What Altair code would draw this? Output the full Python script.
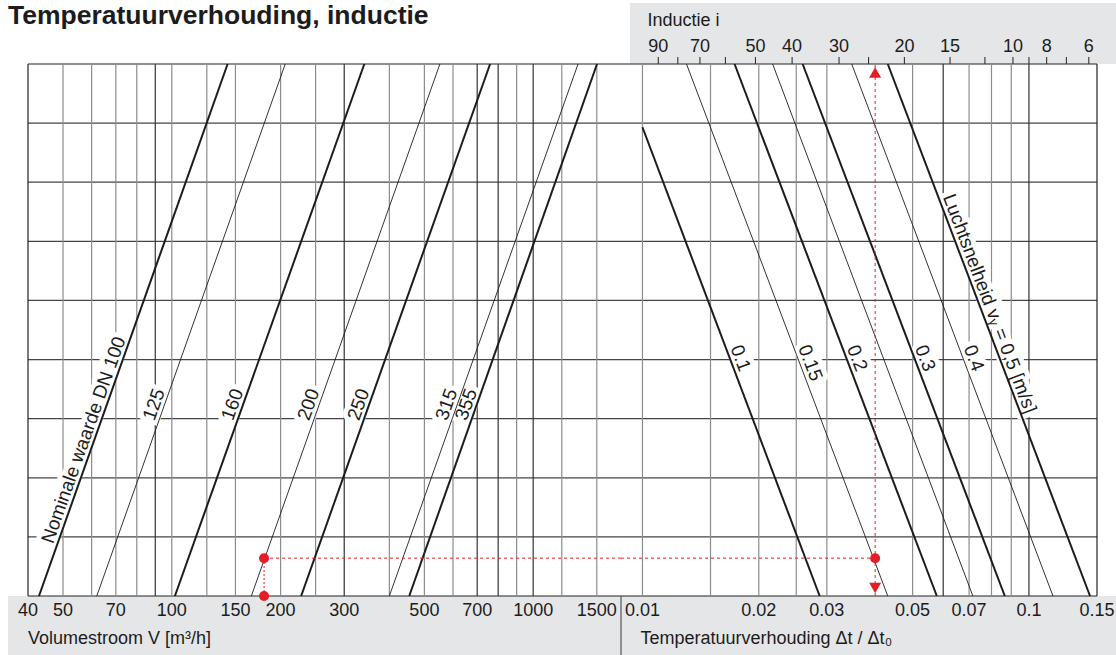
import altair as alt
import pandas as pd

FONT = "Liberation Sans"
INK = "#1c1c1c"
GRID_LIGHT = "#8c8c8c"
GRID_DARK = "#333333"
FRAME = "#222222"
HLINE = "#444444"
BAND = "#e5e6e8"
RED = "#e41e26"
HALO = "white"

W, H = 1069, 532      # plot area of the nomogram
JOIN = 593            # pixel where the volume panel hands over to the ratio panel

# ---------------- left panel: volume flow V [m3/h] ----------------
vol_domain = [40, 1750]
vol_grid = [40, 50, 60, 70, 80, 90, 100, 125, 150, 200, 250, 300, 400, 500,
            600, 700, 800, 900, 1000, 1200, 1500]
vol_grid_dark = [90, 300, 700, 800, 1000]
vol_ticks = [40, 50, 70, 100, 150, 200, 300, 500, 700, 1000, 1500]

# nominal sizes: volume flow where each line meets the bottom and the top edge
dn_sizes = ["100", "125", "160", "200", "250", "315", "355"]
dn_v_bottom = [42.9, 62.0, 102, 166, 228, 400, 454]
dn_v_top = [142.7, 206, 341, 552, 760, 1331, 1502]
dn_heavy = [1, 0, 1, 0, 1, 0, 1]
dn_label_y = [2.6, 3.2, 3.2, 3.2, 3.2, 3.2, 3.2]
dn_label_text = ["Nominale waarde DN 100", "125", "160", "200", "250", "315", "355"]

# ---------------- right panel: temperature ratio dt/dt0 ----------------
ratio_domain = [0.0088, 0.15]
ratio_grid = [0.01, 0.015, 0.02, 0.025, 0.03, 0.05, 0.06, 0.07, 0.08, 0.09, 0.1, 0.15]
ratio_grid_dark = [0.06, 0.1]
ratio_ticks = [0.01, 0.02, 0.03, 0.05, 0.07, 0.1, 0.15]
ratio_tick_text = ["0.01", "0.02", "0.03", "0.05", "0.07", "0.1", "0.15"]

# air velocity lines: ratio at the bottom edge and at their upper end
vel = [0.1, 0.15, 0.2, 0.25, 0.3, 0.4, 0.5]
vel_r_bottom = [0.02874, 0.04312, 0.05776, 0.0716, 0.0866, 0.1154, 0.1439]
vel_r_top = [0.0100, 0.0130, 0.01731, 0.02172, 0.02597, 0.03479, 0.04312]
vel_y_top = [7.93, 9, 9, 9, 9, 9, 9]
vel_heavy = [1, 0, 1, 0, 1, 0, 1]
vel_label_text = ["0.1", "0.15", "0.2", "", "0.3", "0.4",
                  "Luchtsnelheid v\u1d67 = 0,5 [m/s]"]
vel_label_y = [3.98, 3.9, 3.98, 0, 3.98, 3.98, 4.9]

# induction i on the top scale (dt/dt0 = 1 / (1 + i))
induction_ticks = [90, 80, 70, 60, 50, 40, 30, 25, 20, 15, 12, 10, 9, 8, 7, 6]
induction_labels = [90, 70, 50, 40, 30, 20, 15, 10, 8, 6]

# worked example
ex_volume = 180
ex_level = 0.64
ex_ratio = 0.04

# ---------------- scales ----------------
xl = alt.Scale(type="log", domain=vol_domain, range=[0, JOIN])
xr = alt.Scale(type="log", domain=ratio_domain, range=[JOIN, W])
ys = alt.Scale(domain=[0, 9])
ANG_L = 289.56   # direction of the nominal-size lines
ANG_R = 69.26    # direction of the velocity lines
LBL = 18         # tick and axis text size
INL = 19         # text size of the line labels


def XL(f="V"):
    return alt.X(f"{f}:Q", scale=xl, axis=None)


def XR(f="r"):
    return alt.X(f"{f}:Q", scale=xr, axis=None)


def Y(f="y"):
    return alt.Y(f"{f}:Q", scale=ys, axis=None)


# ---------------- backgrounds ----------------
bands = alt.Chart(pd.DataFrame({"k": ["bottom", "top"],
                                "x0": [-20, 602], "x1": [1088, 1088],
                                "y0": [532, -61], "y1": [591, 0]})).mark_rect(
    color=BAND).encode(
    x=alt.X("x0:Q", scale=None), x2="x1:Q",
    y=alt.Y("y0:Q", scale=None), y2="y1:Q")

# horizontal grid (shared by both panels)
hg = pd.DataFrame({"y": list(range(10))})
hg["col"] = [FRAME if v in (0, 9) else HLINE for v in hg["y"]]
hgrid = alt.Chart(hg).mark_rule(strokeWidth=1.2).encode(
    y=Y(), color=alt.Color("col:N", scale=None))


def halo(data, xenc, angle, dx):
    """Outlined copy of a label layer so the grid stops short of the words."""
    return alt.Chart(data).mark_text(
        font=FONT, fontSize=INL, angle=angle, baseline="bottom", dx=dx,
        fill=HALO, stroke=HALO, strokeWidth=10, strokeJoin="round",
        filled=True).encode(x=xenc, y=Y(), text="label:N")


# ---------------- left panel layers ----------------
vg = pd.DataFrame({"V": vol_grid})
vg["col"] = [FRAME if v == 40 else (GRID_DARK if v in vol_grid_dark else GRID_LIGHT)
             for v in vol_grid]
vgrid_l = alt.Chart(vg).mark_rule(strokeWidth=1.2).encode(
    x=XL(), color=alt.Color("col:N", scale=None))

dn_rows = []
for s, vb, vt, hv in zip(dn_sizes, dn_v_bottom, dn_v_top, dn_heavy):
    dn_rows.append({"dn": s, "V": vb, "y": 0, "sw": 2.0 if hv else 0.9})
    dn_rows.append({"dn": s, "V": vt, "y": 9, "sw": 2.0 if hv else 0.9})
dn_lines = alt.Chart(pd.DataFrame(dn_rows)).mark_line(color=INK).encode(
    x=XL(), y=Y(), detail="dn:N", strokeWidth=alt.StrokeWidth("sw:Q", scale=None))

dn_lab = pd.DataFrame({
    "label": dn_label_text,
    "V": [vb * (vt / vb) ** (ly / 9) for vb, vt, ly in zip(dn_v_bottom, dn_v_top, dn_label_y)],
    "y": dn_label_y})
dn_text = alt.Chart(dn_lab).mark_text(
    font=FONT, fontSize=INL, angle=ANG_L, baseline="bottom", dx=-1, color=INK).encode(
    x=XL(), y=Y(), text="label:N")
dn_halo = halo(dn_lab, XL(), ANG_L, -1)

vol_lab = alt.Chart(pd.DataFrame({"V": vol_ticks})).mark_text(
    font=FONT, fontSize=LBL, color=INK, baseline="middle").encode(
    x=XL(), y=alt.value(547), text=alt.Text("V:Q", format="d"))
vol_title = alt.Chart(pd.DataFrame({"V": [40], "t": ["Volumestroom V [m\u00b3/h]"]})).mark_text(
    font=FONT, fontSize=LBL, color=INK, align="left", baseline="middle").encode(
    x=XL(), y=alt.value(575), text="t:N")
divider = alt.Chart(pd.DataFrame({"V": [vol_domain[1]]})).mark_rule(
    color="#555555", strokeWidth=1.2).encode(x=XL(), y=alt.value(532), y2=alt.value(591))

ex_l_h = alt.Chart(pd.DataFrame({"V": [ex_volume], "V2": [vol_domain[1]], "y": [ex_level]})).mark_rule(
    color=RED, strokeWidth=1, strokeDash=[3, 3]).encode(x=XL(), x2="V2:Q", y=Y())
ex_l_v = alt.Chart(pd.DataFrame({"V": [ex_volume], "y": [0], "y2": [ex_level]})).mark_rule(
    color=RED, strokeWidth=1, strokeDash=[2, 2]).encode(x=XL(), y=Y(), y2="y2:Q")
ex_l_pts = alt.Chart(pd.DataFrame({"V": [ex_volume, ex_volume], "y": [ex_level, 0]})).mark_point(
    shape="circle", filled=True, size=100, color=RED, opacity=1).encode(x=XL(), y=Y())

left = alt.layer(vgrid_l, dn_halo, dn_lines, dn_text, vol_lab, vol_title, divider,
                 ex_l_h, ex_l_v, ex_l_pts)

# ---------------- right panel layers ----------------
rg = pd.DataFrame({"r": ratio_grid})
rg["col"] = [FRAME if v == 0.15 else (GRID_DARK if v in ratio_grid_dark else GRID_LIGHT)
             for v in ratio_grid]
vgrid_r = alt.Chart(rg).mark_rule(strokeWidth=1.2).encode(
    x=XR(), color=alt.Color("col:N", scale=None))

vel_rows = []
for v, rb, rt, yt, hv in zip(vel, vel_r_bottom, vel_r_top, vel_y_top, vel_heavy):
    vel_rows.append({"v": v, "r": rb, "y": 0, "sw": 2.0 if hv else 0.9})
    vel_rows.append({"v": v, "r": rt, "y": yt, "sw": 2.0 if hv else 0.9})
vel_lines = alt.Chart(pd.DataFrame(vel_rows)).mark_line(color=INK).encode(
    x=XR(), y=Y(), detail="v:N", strokeWidth=alt.StrokeWidth("sw:Q", scale=None))

vl = pd.DataFrame({
    "label": vel_label_text,
    "r": [rb * (rt / rb) ** (ly / yt) for rb, rt, yt, ly in
          zip(vel_r_bottom, vel_r_top, vel_y_top, vel_label_y)],
    "y": vel_label_y})
vl = vl[vl["label"] != ""]
vel_text = alt.Chart(vl).mark_text(
    font=FONT, fontSize=INL, angle=ANG_R, baseline="bottom", dx=1, color=INK).encode(
    x=XR(), y=Y(), text="label:N")
vel_halo = halo(vl, XR(), ANG_R, 1)

ratio_lab = alt.Chart(pd.DataFrame({"r": ratio_ticks, "t": ratio_tick_text})).mark_text(
    font=FONT, fontSize=LBL, color=INK, baseline="middle").encode(
    x=XR(), y=alt.value(547), text="t:N")
ratio_title = alt.Chart(pd.DataFrame({"r": [0.01], "t": ["Temperatuurverhouding \u0394t / \u0394t\u2080"]})).mark_text(
    font=FONT, fontSize=LBL, color=INK, align="left", baseline="middle", dx=-2).encode(
    x=XR(), y=alt.value(575), text="t:N")

ind_ticks = alt.Chart(pd.DataFrame({"i": induction_ticks})).transform_calculate(
    r="1 / (1 + datum.i)").mark_rule(color="#333333", strokeWidth=1.1).encode(
    x=XR(), y=alt.value(-7), y2=alt.value(0))
ind_lab = alt.Chart(pd.DataFrame({"i": induction_labels})).transform_calculate(
    r="1 / (1 + datum.i)").mark_text(
    font=FONT, fontSize=LBL, color=INK, baseline="middle").encode(
    x=XR(), y=alt.value(-17), text=alt.Text("i:Q", format="d"))
ind_title = alt.Chart(pd.DataFrame({"r": [0.01], "t": ["Inductie i"]})).mark_text(
    font=FONT, fontSize=LBL, color=INK, align="left", baseline="middle", dx=5).encode(
    x=XR(), y=alt.value(-43), text="t:N")

ex_r_h = alt.Chart(pd.DataFrame({"r": [ratio_domain[0]], "r2": [ex_ratio], "y": [ex_level]})).mark_rule(
    color=RED, strokeWidth=1, strokeDash=[3, 3]).encode(x=XR(), x2="r2:Q", y=Y())
ex_r_v = alt.Chart(pd.DataFrame({"r": [ex_ratio], "y": [0], "y2": [9]})).mark_rule(
    color=RED, strokeWidth=1, strokeDash=[3, 3]).encode(x=XR(), y=Y(), y2="y2:Q")
ex_r_pt = alt.Chart(pd.DataFrame({"r": [ex_ratio], "y": [ex_level]})).mark_point(
    shape="circle", filled=True, size=100, color=RED, opacity=1).encode(x=XR(), y=Y())
ex_arrows = alt.Chart(pd.DataFrame({"r": [ex_ratio, ex_ratio], "y": [8.856, 0.135],
                                    "shp": ["triangle-up", "triangle-down"]})).mark_point(
    filled=True, size=144, color=RED, opacity=1).encode(
    x=XR(), y=Y(), shape=alt.Shape("shp:N", scale=None))

right = alt.layer(vgrid_r, vel_halo, vel_lines, vel_text, ratio_lab, ratio_title,
                  ind_ticks, ind_lab, ind_title, ex_r_h, ex_r_v, ex_r_pt, ex_arrows)

title = alt.Chart(pd.DataFrame({"t": ["Temperatuurverhouding, inductie"]})).mark_text(
    font=FONT, fontSize=26.5, fontWeight="bold", color=INK, align="left",
    baseline="alphabetic").encode(x=alt.value(-20), y=alt.value(-40), text="t:N")

chart = alt.layer(bands, hgrid, left, right, title).resolve_scale(
    x="independent").properties(
    width=W, height=H,
    autosize=alt.AutoSizeParams(type="none"),
    padding={"left": 28, "top": 64, "right": 19, "bottom": 59},
).configure_view(stroke=None)

chart.save("out.html", embed_options={"renderer": "svg", "actions": False})
